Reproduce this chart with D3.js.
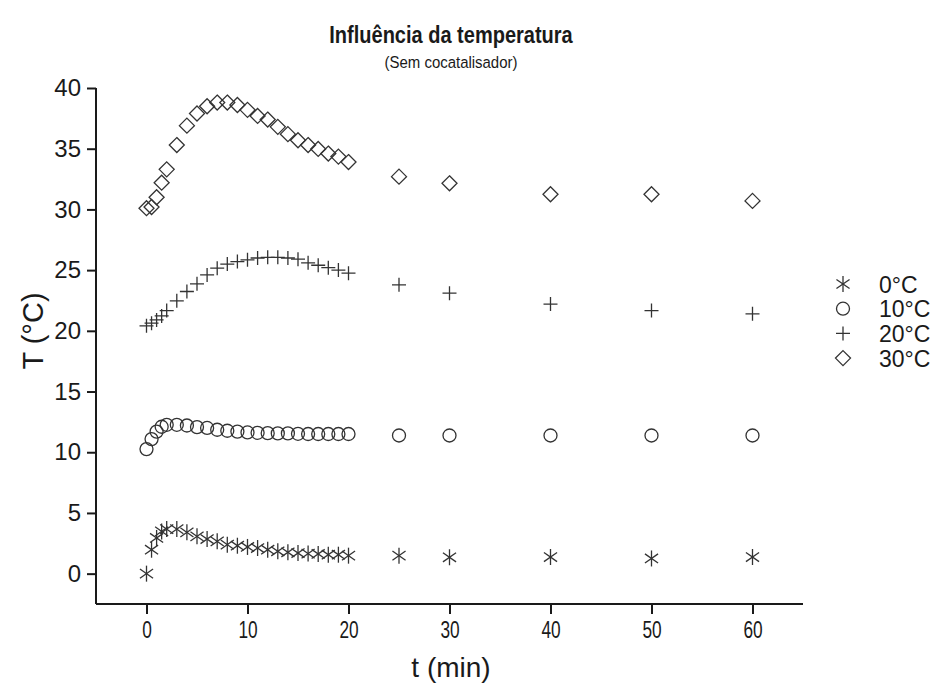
<!DOCTYPE html>
<html><head><meta charset="utf-8">
<script src="https://cdn.jsdelivr.net/npm/d3@7"></script>
<style>body{margin:0;background:#fff}svg{display:block;font-family:Arial,"Liberation Sans",sans-serif}</style>
</head><body><svg id="c" width="940" height="688"></svg>
<script>
const times = [0,0.5,1,1.5,2,3,4,5,6,7,8,9,10,11,12,13,14,15,16,17,18,19,20,25,30,40,50,60];
const series0 = [0,1.97,2.94,3.48,3.67,3.67,3.4,3.07,2.85,2.66,2.39,2.3,2.2,2.11,1.97,1.84,1.76,1.7,1.65,1.62,1.56,1.56,1.48,1.48,1.35,1.37,1.25,1.37];
const series10 = [10.26,11.08,11.7,12.1,12.26,12.26,12.2,12.07,12.0,11.85,11.77,11.7,11.63,11.6,11.57,11.55,11.55,11.52,11.5,11.5,11.5,11.5,11.5,11.38,11.38,11.38,11.38,11.38];
const series20 = [20.41,20.63,20.9,21.23,21.67,22.47,23.24,23.87,24.6,25.16,25.5,25.7,25.85,26.0,26.05,26.05,26.0,25.9,25.6,25.4,25.2,25.0,24.75,23.79,23.1,22.2,21.67,21.4];
const series30 = [30.1,30.2,31.0,32.2,33.3,35.3,36.9,37.9,38.5,38.8,38.8,38.6,38.2,37.7,37.4,36.8,36.2,35.7,35.3,34.98,34.6,34.35,33.9,32.7,32.15,31.25,31.25,30.7];
const seriesNames = ["0°C","10°C","20°C","30°C"];
const xMajorTicks = [0,10,20,30,40,50,60];
const xMinorTicks = [-5,5,15,25,35,45,55,65];
const yMajorTicks = [0,5,10,15,20,25,30,35,40];
const yMinorTicks = [-2.5,2.5,7.5,12.5,17.5,22.5,27.5,32.5,37.5];

const svg = d3.select("#c");
const x = d3.scaleLinear().domain([-5,65]).range([96,803]);
const y = d3.scaleLinear().domain([-2.5,40]).range([604,88]);
const ink = "#1a1a1a", mk = "#333";

// title (slightly condensed like the reference)
svg.append("text").attr("transform","translate(451,43) scale(0.87,1)").attr("text-anchor","middle")
  .attr("font-size",23).attr("font-weight","bold").attr("fill",ink).text("Influência da temperatura");
svg.append("text").attr("transform","translate(451,68) scale(0.88,1)").attr("text-anchor","middle")
  .attr("font-size",17).attr("fill",ink).text("(Sem cocatalisador)");

// axes
const gx = svg.append("g").attr("transform",`translate(0,${y(-2.5)})`);
gx.call(d3.axisBottom(x).tickValues(xMinorTicks).tickSize(6).tickFormat(""));
gx.call(d3.axisBottom(x).tickValues(xMajorTicks).tickSize(10).tickPadding(7).tickFormat(d3.format("d")));
gx.selectAll(".domain").attr("stroke",ink).attr("stroke-width",2).attr("d",`M${x(-5)},0H${x(65)}`);
gx.selectAll(".tick line").attr("stroke",ink).attr("stroke-width",2);
gx.selectAll(".tick text").attr("font-size",24).attr("fill",ink).attr("font-family","Arial,'Liberation Sans',sans-serif")
  .attr("transform","scale(0.72,1)");

const gy = svg.append("g").attr("transform",`translate(${x(-5)},0)`);
gy.call(d3.axisLeft(y).tickValues(yMinorTicks).tickSize(5).tickFormat(""));
gy.call(d3.axisLeft(y).tickValues(yMajorTicks).tickSize(9).tickPadding(6).tickFormat(d3.format("d")));
gy.selectAll(".domain").attr("stroke",ink).attr("stroke-width",2).attr("d",`M0,${y(40)}V${y(-2.5)}`);
gy.selectAll(".tick line").attr("stroke",ink).attr("stroke-width",2);
gy.selectAll(".tick text").attr("font-size",24).attr("fill",ink).attr("font-family","Arial,'Liberation Sans',sans-serif");

svg.append("text").attr("transform","translate(43,331) rotate(-90)").attr("text-anchor","middle")
  .attr("font-size",29).attr("fill",ink).text("T (°C)");
svg.append("text").attr("x",451).attr("y",677).attr("text-anchor","middle")
  .attr("font-size",28).attr("fill",ink).text("t (min)");

// markers
function drawMarker(g, type){
  g.attr("fill","none").attr("stroke",mk).attr("stroke-width",1.3);
  if(type===0){
    const r=8;
    [90,35,-35].forEach(a=>{const rad=a*Math.PI/180;
      g.append("line").attr("x1",-r*Math.cos(rad)).attr("y1",-r*Math.sin(rad)).attr("x2",r*Math.cos(rad)).attr("y2",r*Math.sin(rad));});
  } else if(type===1){
    g.append("circle").attr("r",6.5);
  } else if(type===2){
    g.append("path").attr("d","M-7,0H7M0,-7V7");
  } else {
    g.append("path").attr("d","M0,-7.5L7.5,0L0,7.5L-7.5,0Z");
  }
}
const allSeries=[series0,series10,series20,series30];
allSeries.forEach((vals,si)=>{
  const g=svg.append("g");
  g.selectAll("g").data(times.map((t,i)=>({t,v:vals[i]}))).join("g")
    .attr("transform",d=>`translate(${x(d.t)},${y(d.v)})`)
    .each(function(){drawMarker(d3.select(this),si);});
});

// legend
const lg=svg.append("g");
seriesNames.forEach((n,i)=>{
  const cy=284+i*24.7;
  drawMarker(lg.append("g").attr("transform",`translate(843,${cy})`),i);
  lg.append("text").attr("x",879).attr("y",cy+8.5).attr("font-size",23).attr("fill",ink).text(n);
});
</script></body></html>
